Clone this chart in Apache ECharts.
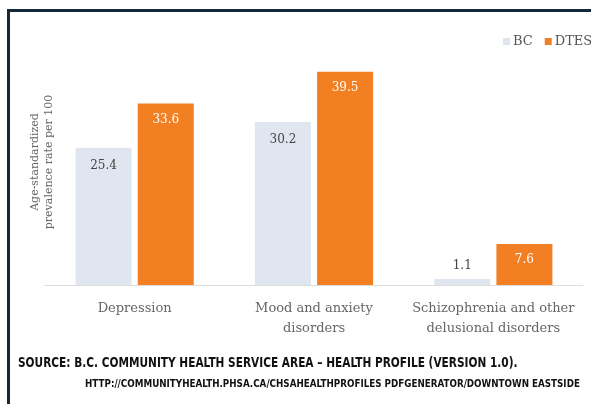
<!DOCTYPE html>
<html>
<head>
<meta charset="utf-8">
<script src="https://cdn.jsdelivr.net/npm/echarts@6/dist/echarts.min.js"></script>
<style>
html,body{margin:0;padding:0;background:#fff;}
#c{width:591px;height:404px;}
</style>
</head>
<body>
<div id="c"></div>
<script>
const categories = ['Depression', 'Mood and anxiety\ndisorders', 'Schizophrenia and other\ndelusional disorders'];
const seriesNames = ['BC', 'DTES'];
const bcValues = [25.4, 30.2, 1.1];
const dtesValues = [33.6, 39.5, 7.6];
const yTitle = ['Age-standardized', 'prevalence rate per 100'];
const sourceLine1 = 'SOURCE: B.C. COMMUNITY HEALTH SERVICE AREA \u2013 HEALTH PROFILE (VERSION 1.0).';
const sourceLine2 = 'HTTP://COMMUNITYHEALTH.PHSA.CA/CHSAHEALTHPROFILES PDFGENERATOR/DOWNTOWN EASTSIDE';

const serif = '"DejaVu Serif", "Liberation Serif", serif';
const cond = '"DejaVu Sans Condensed", "DejaVu Sans", sans-serif';
const chart = echarts.init(document.getElementById('c'), null, {renderer: 'canvas'});
const fmt = p => Number(p.value).toFixed(1);
chart.setOption({
  animation: false,
  backgroundColor: '#fff',
  legend: {
    orient: 'horizontal',
    left: 498, top: 30, width: 300,
    itemWidth: 7, itemHeight: 7, itemGap: 12,
    icon: 'rect',
    textStyle: {fontFamily: serif, fontSize: 13, color: '#555', padding: [0,0,0,-2]},
    data: seriesNames
  },
  grid: {left: 45, right: 8, top: 69, bottom: 119},
  xAxis: {
    type: 'category',
    data: categories,
    axisLine: {lineStyle: {color: '#ddd', width: 1}},
    axisTick: {show: false},
    axisLabel: {interval: 0, fontFamily: serif, fontSize: 13, color: '#666', margin: 14, lineHeight: 20}
  },
  yAxis: {type: 'value', min: 0, max: 40, show: false},
  series: [
    {
      name: seriesNames[0], type: 'bar',
      data: bcValues.map(v => v < 5 ? {value: v, label: {position: 'top', distance: 7}} : v),
      barWidth: 56, barGap: '11%',
      itemStyle: {color: '#e0e6ef'},
      label: {show: true, position: 'insideTop', distance: 12, fontFamily: serif, fontSize: 12, color: '#444', formatter: fmt}
    },
    {
      name: seriesNames[1], type: 'bar', data: dtesValues,
      barWidth: 56,
      itemStyle: {color: '#f27f22'},
      label: {show: true, position: 'insideTop', distance: 10, fontFamily: serif, fontSize: 12, color: '#fff', formatter: fmt}
    }
  ],
  graphic: [
    {type: 'rect', shape: {x: 7, y: 9, width: 3, height: 395}, style: {fill: '#13293a'}},
    {type: 'rect', shape: {x: 7, y: 9, width: 584, height: 3}, style: {fill: '#13293a'}},
    {type: 'text', x: 35, y: 162, rotation: Math.PI/2, style: {text: yTitle[0], fontFamily: serif, fontSize: 11, fill: '#666', align: 'center', verticalAlign: 'middle'}},
    {type: 'text', x: 49, y: 162, rotation: Math.PI/2, style: {text: yTitle[1], fontFamily: serif, fontSize: 11, fill: '#666', align: 'center', verticalAlign: 'middle'}},
    {type: 'text', x: 18, y: 363, scaleX: 0.87, style: {text: sourceLine1, fontFamily: cond, fontWeight: 'bold', fontSize: 13.5, fill: '#111', verticalAlign: 'middle'}},
    {type: 'text', x: 85, y: 384, scaleX: 0.885, style: {text: sourceLine2, fontFamily: cond, fontWeight: 'bold', fontSize: 11, fill: '#111', verticalAlign: 'middle'}}
  ]
});
</script>
</body>
</html>
